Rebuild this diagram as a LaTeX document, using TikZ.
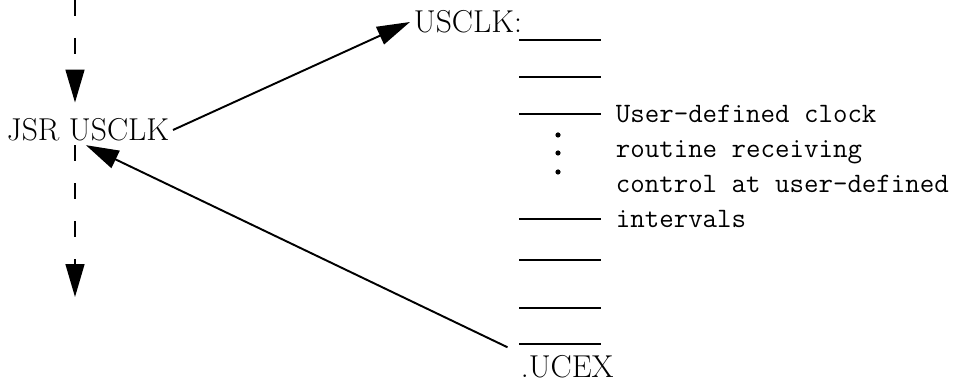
\documentclass[tikz,border=0pt]{standalone}
\usepackage{tikz}
\usetikzlibrary{positioning, arrows.meta}

\begin{document}
\begin{tikzpicture}[x=0.02cm, y=-0.02cm,
  every node/.style={font=\fontsize{18}{21}\selectfont, inner sep=2pt},
  flow/.style={line width=0.85pt, dash pattern=on 0.32cm off 0.44cm,
    -{Triangle[length=6.6mm, width=3.8mm]}},
  link/.style={line width=1.1pt, -{Triangle[length=6.6mm, width=3.8mm]}},
  slot/.style={line width=1.1pt}]

\useasboundingbox (0,0) rectangle (964,384);

% --- Calling side ---
\node (jsr) at (88,130) {JSR USCLK};
\coordinate (top) at (75,0);
\coordinate (bot) at (75,297);

% dashed flow of the main program
\draw[flow, shorten >=7pt] (top) -- (top |- jsr.north);
\draw[flow] (jsr.south -| bot) -- (bot);

% --- Clock routine ---
\node[anchor=west] (usclk) at (410,22) {USCLK:};
\node[anchor=west] (ucex) at (517,367) {.UCEX};

% instruction slots
\foreach \y in {40, 77, 114, 219, 260, 308, 344}
  \draw[slot] (519,\y) -- (601,\y);
\foreach \y in {135, 153, 172}
  \fill (558,\y) circle (2.6);

% note on the routine
\node[anchor=west, align=left, font=\fontsize{16}{19.9}\selectfont\ttfamily] (note) at (612,166)
  {User-defined clock\\routine receiving\\control at user-defined\\intervals};

% --- Jump and return ---
\draw[link] (jsr.east) -- (usclk.west);
\draw[link, shorten <=6pt] (ucex.north west) -- (jsr.-98);

\end{tikzpicture}
\end{document}
